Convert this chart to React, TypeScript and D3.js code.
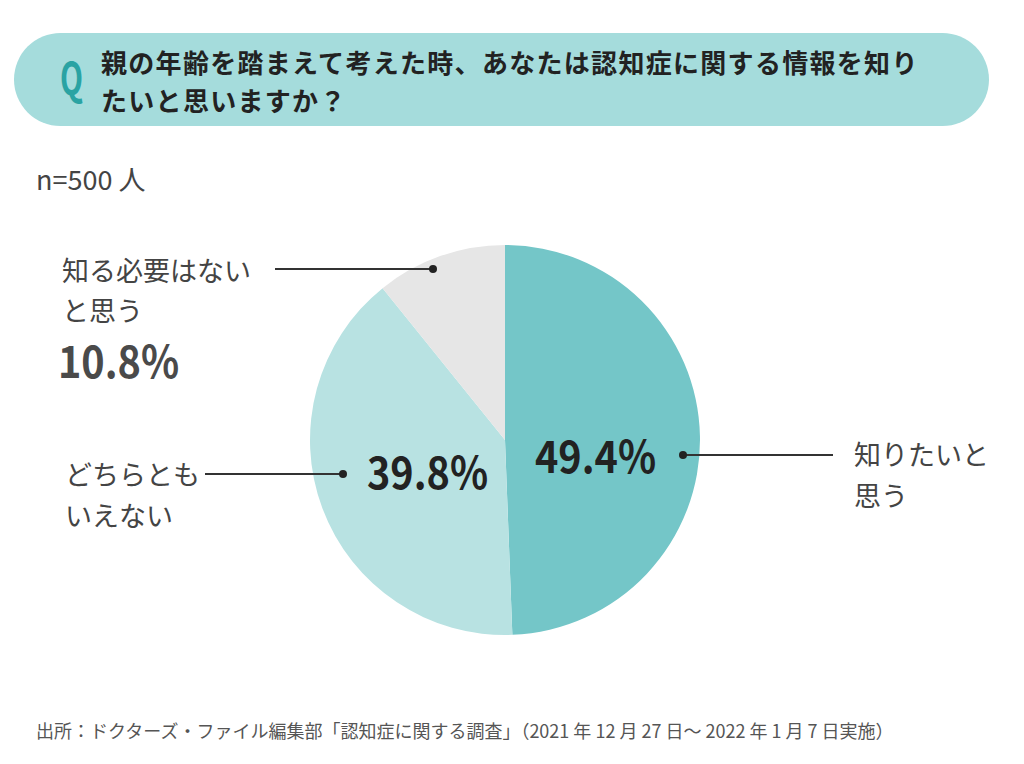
import React from "react";
import * as d3 from "d3";

const categories = ["知りたいと思う", "どちらともいえない", "知る必要はないと思う"];
const values = [49.4, 39.8, 10.8];
const colors = ["#74c6c8", "#b8e2e2", "#e6e6e6"];
const title1 = "親の年齢を踏まえて考えた時、あなたは認知症に関する情報を知り";
const title2 = "たいと思いますか？";
const sampleLabel = "n=500 人";
const source = "出所：ドクターズ・ファイル編集部「認知症に関する調査」（2021 年 12 月 27 日〜 2022 年 1 月 7 日実施）";

const FONT = "'Noto Sans CJK JP', 'Noto Sans', sans-serif";

export default function App() {
  const W = 1024, H = 764;
  const cx = 505, cy = 440, r = 195;
  const pie = d3.pie<number>().sort(null).value((d) => d)(values);
  const arc = d3.arc<d3.PieArcDatum<number>>().innerRadius(0).outerRadius(r);
  const pct = (v: number) => `${v.toFixed(1)}%`;
  const sx = (x: number, s: number) => `translate(${x},0) scale(${s},1) translate(${-x},0)`;
  return (
    <svg width={W} height={H} style={{ position: "absolute", left: 0, top: 0, background: "#fff" }} fontFamily={FONT}>
      <rect x={0} y={0} width={W} height={H} fill="#fff" />
      <rect x={14} y={33} width={975} height={93} rx={46.5} fill="#a5dcdc" />
      <text x={60} y={95} fill="#2aa3a3" fontSize={44} fontWeight={700} transform={sx(60, 0.68)}>Q</text>
      <text x={101} y={73} fill="#222" fontSize={26} fontWeight={700} letterSpacing={1.3}>{title1}</text>
      <text x={101} y={111} fill="#222" fontSize={26} fontWeight={700} letterSpacing={1.3}>{title2}</text>
      <text x={36} y={190} fill="#444" fontSize={27}>{sampleLabel}</text>
      <g transform={`translate(${cx},${cy})`}>
        {pie.map((p, i) => (
          <path key={categories[i]} d={arc(p) || ""} fill={colors[i]} />
        ))}
      </g>
      {/* 知る必要はない */}
      <line x1={275} y1={269} x2={433} y2={269} stroke="#333" strokeWidth={2} />
      <circle cx={433} cy={269} r={4} fill="#222" />
      <text x={62} y={281} fill="#444" fontSize={27}>知る必要はない</text>
      <text x={62} y={321} fill="#444" fontSize={27}>と思う</text>
      <text x={58} y={378} fill="#4a4a4a" fontSize={44} fontWeight={700} transform={sx(58, 0.9)}>{pct(values[2])}</text>
      {/* どちらとも */}
      <line x1={205} y1={474} x2={343} y2={474} stroke="#333" strokeWidth={2} />
      <circle cx={343} cy={474} r={4} fill="#222" />
      <text x={65} y={485} fill="#444" fontSize={27}>どちらとも</text>
      <text x={65} y={526} fill="#444" fontSize={27}>いえない</text>
      <text x={367} y={489} fill="#222" fontSize={44} fontWeight={700} transform={sx(367, 0.9)}>{pct(values[1])}</text>
      {/* 知りたいと */}
      <line x1={683} y1={455} x2={833} y2={455} stroke="#333" strokeWidth={2} />
      <circle cx={683} cy={455} r={4} fill="#222" />
      <text x={535} y={473} fill="#222" fontSize={44} fontWeight={700} transform={sx(535, 0.9)}>{pct(values[0])}</text>
      <text x={854} y={465} fill="#444" fontSize={27}>知りたいと</text>
      <text x={854} y={506} fill="#444" fontSize={27}>思う</text>
      <text x={36} y={738} fill="#555" fontSize={18}>{source}</text>
    </svg>
  );
}
